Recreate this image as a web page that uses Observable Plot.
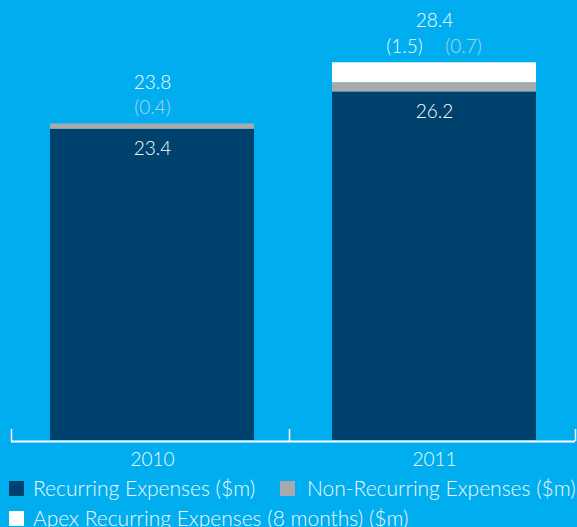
<!DOCTYPE html>
<html><head><meta charset="utf-8">
<script src="https://cdn.jsdelivr.net/npm/d3@7"></script>
<script src="https://cdn.jsdelivr.net/npm/@observablehq/plot@0.6"></script>
<style>
html,body{margin:0;padding:0;background:#00aeef;}
body{position:relative;width:577px;height:527px;overflow:hidden;font-family:Lato,"Open Sans",sans-serif;font-weight:300;color:#eef8fd;}
#chart svg{display:block;background:transparent;}
#legend{position:absolute;left:0;top:0;width:577px;font-size:21px;line-height:28px;}
.item{position:absolute;white-space:nowrap;display:flex;align-items:center;height:28px;}
.sw{width:15px;height:15px;flex:none;}
</style></head><body>
<div id="chart"></div>
<div id="legend"></div>
<script>
const years = ["2010", "2011"];
const recurring = [23.4, 26.2];
const nonRecurring = [0.4, 0.7];
const apex = [0, 1.5];
const totals = [23.8, 28.4];
const seriesNames = ["Recurring Expenses ($m)", "Non-Recurring Expenses ($m)", "Apex Recurring Expenses (8 months) ($m)"];
const seriesColors = ["#00426e", "#a7a9ac", "#ffffff"];
const labelColors = ["#ffffff", "#b6d6e6", "#f4fbfe"];

const seriesValues = [recurring, nonRecurring, apex];
const rows = [];
years.forEach((yr, i) => seriesValues.forEach((vals, s) => rows.push({year: yr, series: seriesNames[s], value: vals[i]})));

// parenthetical labels above the bars (apex first, then non-recurring)
const parenRows = [];
years.forEach((yr, i) => {
  const items = [];
  if (apex[i] > 0) items.push({series: 2, value: apex[i]});
  if (nonRecurring[i] > 0) items.push({series: 1, value: nonRecurring[i]});
  items.forEach((it, k) => parenRows.push({year: yr, total: totals[i], text: `(${it.value.toFixed(1)})`, color: labelColors[it.series], slot: items.length === 1 ? 0 : (k === 0 ? -1 : 1)}));
});

const W = 577, H = 472, mL = 11, mR = 2, mB = 32;
const step = (W - mL - mR) / years.length;
const fs = 19;

const chart = Plot.plot({
  width: W, height: H,
  marginLeft: mL, marginRight: mR, marginTop: 0, marginBottom: mB,
  style: {background: "transparent", fontFamily: "Lato, 'Open Sans', sans-serif", fontWeight: 300, overflow: "visible"},
  x: {domain: years, padding: 0, axis: null},
  y: {domain: [0, 33.08], axis: null},
  color: {domain: seriesNames, range: seriesColors},
  marks: [
    Plot.barY(rows, {x: "year", y: "value", fill: "series", insetLeft: 39, insetRight: 39}),
    Plot.ruleY([0], {stroke: "#ffffff", strokeWidth: 2, dy: 1}),
    Plot.ruleX([years[0]], {x: d => d, dx: -step / 2, y1: 0, y2: 0.9, stroke: "#ffffff", strokeWidth: 1.5, dy: 1}),
    Plot.ruleX([years[1]], {x: d => d, dx: -step / 2 - 4, y1: 0, y2: 0.9, stroke: "#ffffff", strokeWidth: 1.5, dy: 1}),
    Plot.ruleX([years[1]], {x: d => d, dx: step / 2, y1: 0, y2: 0.9, stroke: "#ffffff", strokeWidth: 1.5, dy: 1}),
    Plot.text(years, {x: d => d, y: 0, text: d => d, dy: 19.5, fill: "#f2fafe", fontSize: fs, fontWeight: 300}),
    Plot.text(years.map((yr, i) => ({year: yr, total: totals[i]})), {x: "year", y: "total", text: d => d.total.toFixed(1), dy: -41.5, fill: "#ffffff", fontSize: fs, fontWeight: 300}),
    Plot.text(parenRows.filter(d => d.slot === 0), {x: "year", y: "total", text: "text", fill: d => d.color, dy: -16, fontSize: fs, fontWeight: 300}),
    Plot.text(parenRows.filter(d => d.slot === -1), {x: "year", y: "total", text: "text", fill: d => d.color, dy: -16, dx: -30, fontSize: fs, fontWeight: 300}),
    Plot.text(parenRows.filter(d => d.slot === 1), {x: "year", y: "total", text: "text", fill: d => d.color, dy: -16, dx: 29, fontSize: fs, fontWeight: 300}),
    Plot.text(years.map((yr, i) => ({year: yr, v: recurring[i]})), {x: "year", y: "v", text: d => d.v.toFixed(1), dy: 20, fill: "#ffffff", fontSize: fs, fontWeight: 300})
  ]
});
document.getElementById("chart").appendChild(chart);

const legend = document.getElementById("legend");
const pos = [[8.5, 474, 9.5], [280, 474, 12], [8.5, 504, 9.5]];
seriesNames.forEach((name, s) => {
  const it = document.createElement("div");
  it.className = "item";
  it.style.left = pos[s][0] + "px";
  it.style.top = pos[s][1] + "px";
  const sw = document.createElement("span");
  sw.className = "sw";
  sw.style.background = seriesColors[s];
  sw.style.marginRight = pos[s][2] + "px";
  const tx = document.createElement("span");
  tx.textContent = name;
  it.appendChild(sw); it.appendChild(tx);
  legend.appendChild(it);
});
</script>
</body></html>
